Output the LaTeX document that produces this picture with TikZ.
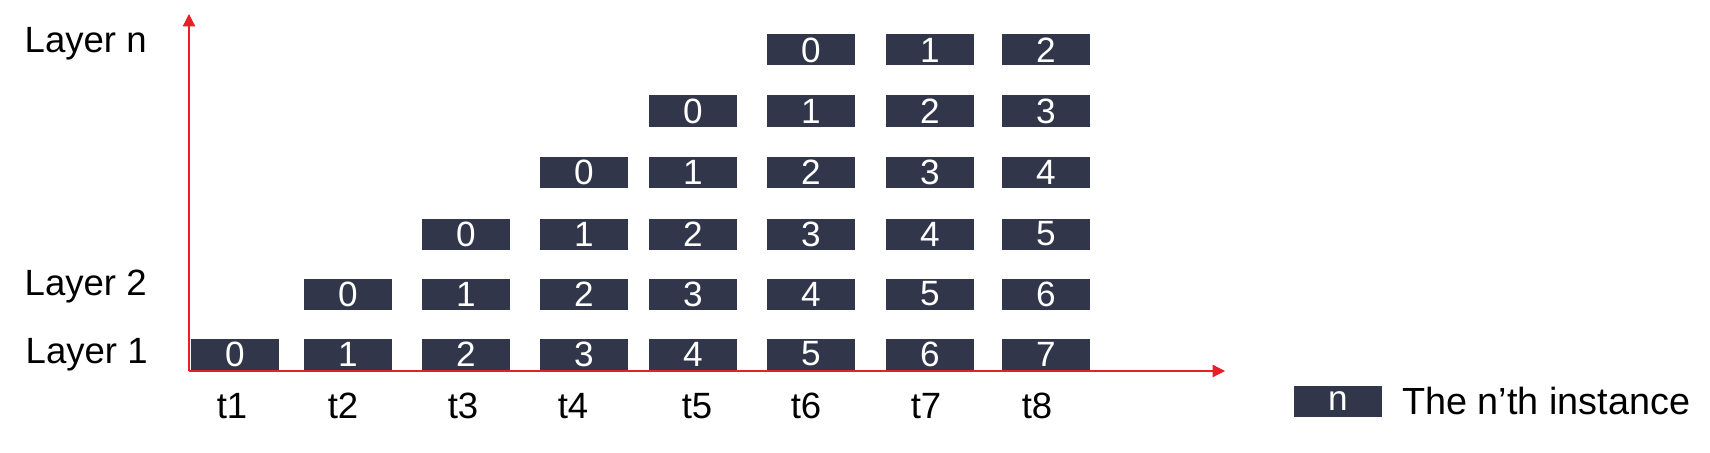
\documentclass[tikz,border=0pt]{standalone}
\usepackage{fontspec}
\setmainfont{Liberation Sans}
\usepackage{xcolor}
\usetikzlibrary{arrows.meta}

\definecolor{boxnavy}{RGB}{50,54,74}
\definecolor{axisred}{RGB}{232,31,39}

\begin{document}
\begin{tikzpicture}[x=0.2mm,y=0.2mm,
  inst/.style={fill=boxnavy,text=white,minimum width=17.6mm,minimum height=6.2mm,inner sep=0pt,font=\fontsize{20}{24}\selectfont},
  lbl/.style={inner sep=0pt,font=\fontsize{20.8}{24}\selectfont},
  axis/.style={axisred,line width=0.65pt,-{Triangle[length=7pt,width=7pt]}}]

\useasboundingbox (0,0) rectangle (1710,452);

\coordinate (o) at (189,81);
\coordinate (ytop) at (189,438);
\coordinate (xend) at (1225,81);
\draw[axis] (o) -- (ytop);
\draw[axis] (o) -- (xend);

\node[lbl,anchor=base east] (ln) at (147,399){Layer n};
\node[lbl,anchor=base east] (l2) at (147,157){Layer 2};
\node[lbl,anchor=base east] (l1) at (148,89){Layer 1};

\node[inst] (11) at (235,98){0};

\node[inst] (21) at (348,98){1};
\node[inst] (22) at (348,158){0};

\node[inst] (31) at (466,98){2};
\node[inst] (32) at (466,158){1};
\node[inst] (33) at (466,218){0};

\node[inst] (41) at (584,98){3};
\node[inst] (42) at (584,158){2};
\node[inst] (43) at (584,218){1};
\node[inst] (44) at (584,280){0};

\node[inst] (51) at (693,98){4};
\node[inst] (52) at (693,158){3};
\node[inst] (53) at (693,218){2};
\node[inst] (54) at (693,280){1};
\node[inst] (55) at (693,341){0};

\node[inst] (61) at (811,98){5};
\node[inst] (62) at (811,158){4};
\node[inst] (63) at (811,218){3};
\node[inst] (64) at (811,280){2};
\node[inst] (65) at (811,341){1};
\node[inst] (66) at (811,402){0};

\node[inst] (71) at (930,98){6};
\node[inst] (72) at (930,158){5};
\node[inst] (73) at (930,218){4};
\node[inst] (74) at (930,280){3};
\node[inst] (75) at (930,341){2};
\node[inst] (76) at (930,402){1};

\node[inst] (81) at (1046,98){7};
\node[inst] (82) at (1046,158){6};
\node[inst] (83) at (1046,218){5};
\node[inst] (84) at (1046,280){4};
\node[inst] (85) at (1046,341){3};
\node[inst] (86) at (1046,402){2};

\node[lbl,anchor=base] (t1) at (232,34){t1};
\node[lbl,anchor=base] (t2) at (343,34){t2};
\node[lbl,anchor=base] (t3) at (463,34){t3};
\node[lbl,anchor=base] (t4) at (573,34){t4};
\node[lbl,anchor=base] (t5) at (697,34){t5};
\node[lbl,anchor=base] (t6) at (806,34){t6};
\node[lbl,anchor=base] (t7) at (926,34){t7};
\node[lbl,anchor=base] (t8) at (1037,34){t8};

\node[inst] (key) at (1338,51){n};
\node[lbl,anchor=base west,font=\fontsize{21.5}{26}\selectfont] (keytext) at (1402,38){The n’th instance};

\end{tikzpicture}
\end{document}
